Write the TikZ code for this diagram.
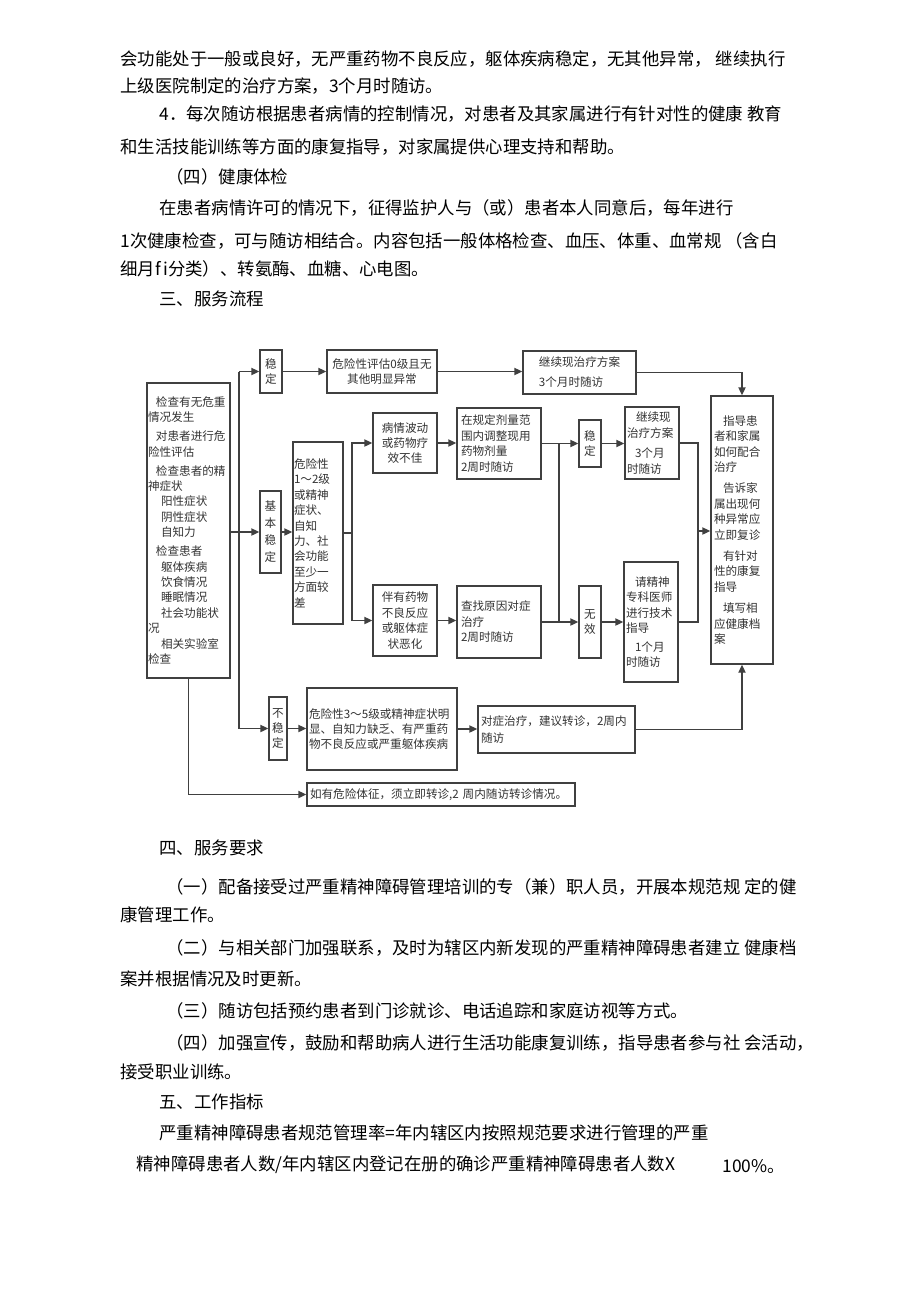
\documentclass[tikz,border=0pt]{standalone}
\usepackage{fontspec}
\newfontfamily\cjk{Noto Sans CJK SC}
\usetikzlibrary{arrows.meta}
\newcommand{\flowfont}{\cjk\fontsize{5.8}{7.7}\selectfont}
\newcommand{\bodyfont}{\cjk\fontsize{8.7}{10}\selectfont}

\begin{document}
\begin{tikzpicture}[x=0.5pt, y=-0.5pt,
    box/.style={draw=black!75, line width=0.7pt, inner xsep=1pt, inner ysep=1pt,
      align=center, font=\flowfont, text=black!80},
    wire/.style={draw=black!75, line width=0.7pt},
    arr/.style={wire, -{Triangle[length=4pt,width=3.6pt]}},
    txt/.style={anchor=west, inner sep=0pt, font=\bodyfont, text height=7.6pt, text depth=1.1pt}]
  \path[use as bounding box, fill=white] (0,0) rectangle (920,1303);

  % text above the chart
  \node[txt] (t1) at (120,59) {会功能处于一般或良好，无严重药物不良反应，躯体疾病稳定，无其他异常， 继续执行};
  \node[txt] (t2) at (120,86) {上级医院制定的治疗方案，3个月时随访。};
  \node[txt] (t3) at (159,114) {4．每次随访根据患者病情的控制情况，对患者及其家属进行有针对性的健康 教育};
  \node[txt] (t4) at (120,147) {和生活技能训练等方面的康复指导，对家属提供心理支持和帮助。};
  \node[txt] (t5) at (166,177) {（四）健康体检};
  \node[txt] (t6) at (159,208) {在患者病情许可的情况下，征得监护人与（或）患者本人同意后，每年进行};
  \node[txt] (t7) at (120,241) {1次健康检查，可与随访相结合。内容包括一般体格检查、血压、体重、血常规 （含白};
  \node[txt] (t8) at (120,269) {细月f\hspace{1.2pt}i分类）、转氨酶、血糖、心电图。};
  \node[txt] (t9) at (159,299) {三、服务流程};

  % flow chart
  \node[box, minimum width=41.5pt, minimum height=147.5pt, inner xsep=0.5pt, text width=40.5pt, align=left] (check) at (188.5,530.5)
    {\hspace*{4pt}检查有无危重\\情况发生\\[1.75pt]\hspace*{4pt}对患者进行危\\险性评估\\[1.75pt]\hspace*{4pt}检查患者的精\\神症状\\\hspace*{6.5pt}阳性症状\\\hspace*{6.5pt}阴性症状\\\hspace*{6.5pt}自知力\\[1.75pt]\hspace*{4pt}检查患者\\\hspace*{6.5pt}躯体疾病\\\hspace*{6.5pt}饮食情况\\\hspace*{6.5pt}睡眠情况\\\hspace*{6.5pt}社会功能状\\况\\\hspace*{6.5pt}相关实验室\\检查};
  \node[box, minimum width=11pt, minimum height=21.5pt] (wd1) at (271,371.5) {稳\\定};
  \node[box, minimum width=55pt, minimum height=21.5pt] (eval0) at (382,371.5) {危险性评估0级且无\\其他明显异常};
  \node[box, minimum width=56.5pt, minimum height=21.5pt, align=left] (keep3m) at (579.5,372.5) {继续现治疗方案\\[2.3pt]3个月时随访};
  \node[box, minimum width=10.5pt, minimum height=41pt] (basic) at (270.5,532) {基\\[0.8pt]本\\[0.8pt]稳\\[0.8pt]定};
  \node[box, minimum width=25pt, minimum height=91pt, inner xsep=0.5pt, text width=24pt, align=left] (risk12) at (318,533)
    {危险性\\1～2级\\或精神\\症状、\\自知\\力、社\\会功能\\至少一\\方面较\\差};
  \node[box, minimum width=32pt, minimum height=30pt] (fluct) at (405,443) {病情波动\\或药物疗\\效不佳};
  \node[box, minimum width=32pt, minimum height=35.5pt] (adverse) at (405,620.5) {伴有药物\\不良反应\\或躯体症\\状恶化};
  \node[box, minimum width=42pt, minimum height=35.5pt, inner xsep=2pt, text width=38pt, align=left] (adjust) at (499,443.5)
    {在规定剂量范\\围内调整现用\\药物剂量\\2周时随访};
  \node[box, minimum width=42pt, minimum height=36pt, inner xsep=2pt, text width=38pt, align=left] (cause) at (499,622)
    {查找原因对症\\治疗\\2周时随访};
  \node[box, minimum width=11pt, minimum height=23.5pt] (wd2) at (590,443.5) {稳\\定};
  \node[box, minimum width=11pt, minimum height=36pt] (invalid) at (590,622) {无\\效};
  \node[box, minimum width=27pt, minimum height=36pt, text width=25pt, align=left] (keep2) at (652,443)
    {\hspace*{4.5pt}继续现\\治疗方案\\[2.5pt]\hspace*{4pt}3个月\\时随访};
  \node[box, minimum width=27pt, minimum height=60pt, text width=25pt, align=left] (consult) at (651,622)
    {\hspace*{4.5pt}请精神\\专科医师\\进行技术\\指导\\[1.5pt]\hspace*{4.5pt}1个月\\时随访};
  \node[box, minimum width=31pt, minimum height=134pt, inner xsep=1.5pt, text width=28pt, align=left] (guide) at (742,530)
    {\hspace*{4.5pt}指导患\\者和家属\\如何配合\\治疗\\[3pt]\hspace*{4.5pt}告诉家\\属出现何\\种异常应\\立即复诊\\[3pt]\hspace*{4.5pt}有针对\\性的康复\\指导\\[3pt]\hspace*{4.5pt}填写相\\应健康档\\案};
  \node[box, minimum width=9pt, minimum height=31.5pt] (unstable) at (278,728.5) {不\\稳\\定};
  \node[box, minimum width=75pt, minimum height=41pt, text width=73pt, align=left] (risk35) at (382,729)
    {危险性3～5级或精神症状明\\显、自知力缺乏、有严重药\\物不良反应或严重躯体疾病};
  \node[box, minimum width=78.5pt, minimum height=23.5pt, inner xsep=1.5pt, text width=75.5pt, align=left] (symp) at (556.5,729.5)
    {对症治疗，建议转诊，2周内\\[0.8pt]随访};
  \node[box, minimum width=134pt, minimum height=11.5pt, inner xsep=1.5pt, text width=131pt, align=left] (danger) at (441,794.5)
    {如有危险体征，须立即转诊,2 周内随访转诊情况。};

  % connectors
  \coordinate (tr) at (239,533);
  \coordinate (sp1) at (352,533);
  \coordinate (sp2) at (559,533);
  \coordinate (sp3) at (698,531);
  \draw[arr] (check.east |- basic.west) -- (basic.west);
  \draw[wire] (tr |- wd1.west) -- (tr |- unstable.west);
  \draw[arr] (tr |- wd1.west) -- (wd1.west);
  \draw[arr] (tr |- unstable.west) -- (unstable.west);
  \draw[arr] (wd1.east) -- (eval0.west);
  \draw[arr] (eval0.east) -- (eval0.east -| keep3m.west);
  \draw[arr] (keep3m.east) -| (guide.north);
  \draw[arr] (basic.east) -- (basic.east -| risk12.west);
  \draw[wire] (risk12.east) -- (sp1);
  \draw[arr] (sp1) |- (fluct.west);
  \draw[arr] (sp1) |- (adverse.west);
  \draw[arr] (fluct.east) -- (fluct.east -| adjust.west);
  \draw[arr] (adverse.east) -- (adverse.east -| cause.west);
  \draw[arr] (adjust.east) -- (adjust.east -| wd2.west);
  \draw[arr] (cause.east) -- (cause.east -| invalid.west);
  \draw[wire] (sp2 |- adjust.east) -- (sp2 |- cause.east);
  \draw[arr] (wd2.east) -- (wd2.east -| keep2.west);
  \draw[arr] (invalid.east) -- (invalid.east -| consult.west);
  \draw[wire] (keep2.east) -| (sp3);
  \draw[wire] (consult.east) -| (sp3);
  \draw[arr] (sp3) -- (sp3 -| guide.west);
  \draw[arr] (unstable.east) -- (unstable.east -| risk35.west);
  \draw[arr] (risk35.east) -- (risk35.east -| symp.west);
  \draw[arr] (symp.east) -| (guide.south);
  \draw[arr] (check.south) |- (danger.west);

  % text below the chart
  \node[txt] (t10) at (159,848) {四、服务要求};
  \node[txt] (t11) at (166,887) {（一）配备接受过严重精神障碍管理培训的专（兼）职人员，开展本规范规 定的健};
  \node[txt] (t12) at (120,915) {康管理工作。};
  \node[txt] (t13) at (166,948) {（二）与相关部门加强联系，及时为辖区内新发现的严重精神障碍患者建立 健康档};
  \node[txt] (t14) at (120,979) {案并根据情况及时更新。};
  \node[txt] (t15) at (166,1011) {（三）随访包括预约患者到门诊就诊、电话追踪和家庭访视等方式。};
  \node[txt] (t16) at (166,1043) {（四）加强宣传，鼓励和帮助病人进行生活功能康复训练，指导患者参与社 会活动，};
  \node[txt] (t17) at (120,1072) {接受职业训练。};
  \node[txt] (t18) at (159,1102) {五、工作指标};
  \node[txt] (t19) at (159,1133) {严重精神障碍患者规范管理率=年内辖区内按照规范要求进行管理的严重};
  \node[txt] (t20) at (136,1164) {精神障碍患者人数/年内辖区内登记在册的确诊严重精神障碍患者人数X};
  \node[txt] (t21) at (722,1166) {100\%。};
\end{tikzpicture}
\end{document}
